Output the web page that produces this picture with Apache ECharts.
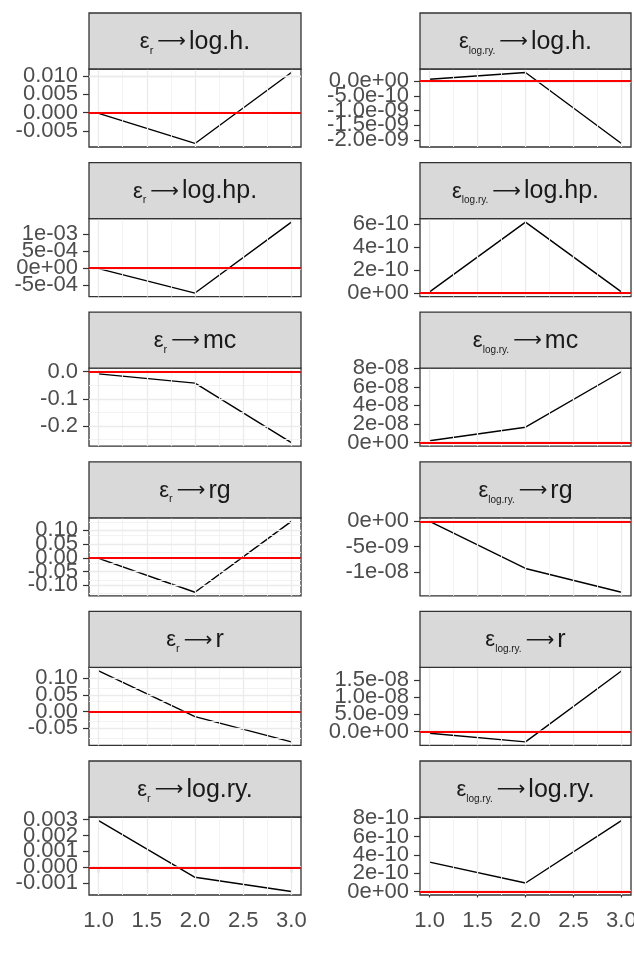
<!DOCTYPE html>
<html><head><meta charset="utf-8">
<script src="https://cdn.jsdelivr.net/npm/echarts@6/dist/echarts.min.js"></script>
<style>html,body{margin:0;padding:0;background:#fff}#c{width:634px;height:959px}</style>
</head><body><div id="c"></div>
<script>
// ---------- data ----------
const xValues = [1, 2, 3];
const xTicks = [1.0, 1.5, 2.0, 2.5, 3.0];
const xTickLabels = ['1.0', '1.5', '2.0', '2.5', '3.0'];

const responses = ['log.h.', 'log.hp.', 'mc', 'rg', 'r', 'log.ry.'];
const shocks = ['r', 'log.ry.'];

// shock ε_r
const r_logh   = [-0.0002, -0.0084, 0.0109];
const r_loghp  = [-0.00002, -0.00074, 0.00135];
const r_mc     = [-0.008, -0.042, -0.262];
const r_rg     = [-0.002, -0.125, 0.132];
const r_r      = [0.122, -0.015, -0.091];
const r_logry  = [0.00294, -0.00063, -0.00152];
// shock ε_log.ry.
const ry_logh  = [6e-11, 2.9e-10, -2.12e-9];
const ry_loghp = [1e-11, 6.15e-10, 1e-11];
const ry_mc    = [2e-9, 1.66e-8, 7.62e-8];
const ry_rg    = [0, -9.3e-9, -1.4e-8];
const ry_r     = [-5e-10, -3e-9, 1.76e-8];
const ry_logry = [3.2e-10, 9.2e-11, 7.75e-10];

// y tick values and labels
const t_r_logh = [-0.005, 0, 0.005, 0.010];        const l_r_logh = ['-0.005', '0.000', '0.005', '0.010'];
const t_r_loghp = [-5e-4, 0, 5e-4, 1e-3];          const l_r_loghp = ['-5e-04', '0e+00', '5e-04', '1e-03'];
const t_r_mc = [-0.2, -0.1, 0];                    const l_r_mc = ['-0.2', '-0.1', '0.0'];
const t_r_rg = [-0.10, -0.05, 0, 0.05, 0.10];      const l_r_rg = ['-0.10', '-0.05', '0.00', '0.05', '0.10'];
const t_r_r = [-0.05, 0, 0.05, 0.10];              const l_r_r = ['-0.05', '0.00', '0.05', '0.10'];
const t_r_logry = [-0.001, 0, 0.001, 0.002, 0.003]; const l_r_logry = ['-0.001', '0.000', '0.001', '0.002', '0.003'];
const t_ry_logh = [-2e-9, -1.5e-9, -1e-9, -5e-10, 0]; const l_ry_logh = ['-2.0e-09', '-1.5e-09', '-1.0e-09', '-5.0e-10', '0.0e+00'];
const t_ry_loghp = [0, 2e-10, 4e-10, 6e-10];       const l_ry_loghp = ['0e+00', '2e-10', '4e-10', '6e-10'];
const t_ry_mc = [0, 2e-8, 4e-8, 6e-8, 8e-8];       const l_ry_mc = ['0e+00', '2e-08', '4e-08', '6e-08', '8e-08'];
const t_ry_rg = [-1e-8, -5e-9, 0];                 const l_ry_rg = ['-1e-08', '-5e-09', '0e+00'];
const t_ry_r = [0, 5e-9, 1e-8, 1.5e-8];            const l_ry_r = ['0.0e+00', '5.0e-09', '1.0e-08', '1.5e-08'];
const t_ry_logry = [0, 2e-10, 4e-10, 6e-10, 8e-10]; const l_ry_logry = ['0e+00', '2e-10', '4e-10', '6e-10', '8e-10'];

const panelData = [
  [r_logh, r_loghp, r_mc, r_rg, r_r, r_logry],
  [ry_logh, ry_loghp, ry_mc, ry_rg, ry_r, ry_logry]
];
const panelTicks = [
  [t_r_logh, t_r_loghp, t_r_mc, t_r_rg, t_r_r, t_r_logry],
  [t_ry_logh, t_ry_loghp, t_ry_mc, t_ry_rg, t_ry_r, t_ry_logry]
];
const panelLabels = [
  [l_r_logh, l_r_loghp, l_r_mc, l_r_rg, l_r_r, l_r_logry],
  [l_ry_logh, l_ry_loghp, l_ry_mc, l_ry_rg, l_ry_r, l_ry_logry]
];

// ---------- layout ----------
const colLeft = [89, 420];
const colWidth = [212, 211];
const rowTop0 = 13, rowPitch = 149.6, stripH = 56, plotH = 78;
const FONT = '"Liberation Sans", Arial, sans-serif';
const NGROUP = 3; // labels split over overlaid axes so overlapping labels all stay visible

const grids = [], xAxes = [], yAxes = [], series = [], graphics = [];
let k = 0;
for (let r = 0; r < 6; r++) {
  for (let c = 0; c < 2; c++) {
    const data = panelData[c][r];
    const ticks = panelTicks[c][r];
    const labels = panelLabels[c][r];
    const lo = Math.min(0, ...data), hi = Math.max(0, ...data);
    const pad = 0.05 * (hi - lo);
    const ymin = lo - pad, ymax = hi + pad;
    const xmin = 0.9, xmax = 3.1;
    const stripTop = rowTop0 + rowPitch * r;
    const top = stripTop + stripH;
    grids.push({left: colLeft[c], top: top, width: colWidth[c], height: plotH,
      show: true, borderColor: '#333333', borderWidth: 1.3, backgroundColor: '#fff',
      containLabel: false, outerBoundsMode: 'none'});
    const bottomRow = r === 5;
    xAxes.push({type: 'value', gridIndex: k, min: xmin, max: xmax,
      axisLine: {show: false}, splitLine: {show: false},
      axisTick: {show: bottomRow, length: 6, lineStyle: {color: '#333333', width: 1.2}, customValues: xTicks},
      axisLabel: {show: bottomRow, customValues: xTicks, margin: 15, fontSize: 22, fontFamily: FONT, color: '#4D4D4D',
        showMinLabel: true, showMaxLabel: true, hideOverlap: false,
        formatter: (v) => { const i = xTicks.findIndex(t => Math.abs(t - v) < 1e-6); return i >= 0 ? xTickLabels[i] : ''; }}
    });
    const tol = (ymax - ymin) * 1e-6;
    const firstY = yAxes.length;
    for (let g = 0; g < NGROUP; g++) {
      const gTicks = ticks.filter((t, i) => i % NGROUP === g);
      const gLabels = labels.filter((t, i) => i % NGROUP === g);
      yAxes.push({type: 'value', gridIndex: k, min: ymin, max: ymax, position: 'left', offset: 0,
        show: gTicks.length > 0,
        axisLine: {show: false}, splitLine: {show: false},
        axisTick: {show: true, length: 6, lineStyle: {color: '#333333', width: 1.2}, customValues: gTicks},
        axisLabel: {customValues: gTicks, margin: 11, fontSize: 22, fontFamily: FONT, color: '#4D4D4D', hideOverlap: false,
          showMinLabel: true, showMaxLabel: true,
          formatter: (v) => { const i = gTicks.findIndex(t => Math.abs(t - v) < tol); return i >= 0 ? gLabels[i] : ''; }}
      });
    }
    // gridlines
    const step = ticks[1] - ticks[0];
    const yMinor = [];
    for (let i = -1; i < ticks.length; i++) {
      const m = ticks[0] + step * (i + 0.5);
      if (m > ymin && m < ymax) yMinor.push(m);
    }
    const xMinor = [1.25, 1.75, 2.25, 2.75];
    const gl = [];
    yMinor.forEach(v => gl.push({yAxis: v, lineStyle: {color: '#F2F2F2', width: 0.9, type: 'solid'}}));
    xMinor.forEach(v => gl.push({xAxis: v, lineStyle: {color: '#F2F2F2', width: 0.9, type: 'solid'}}));
    ticks.forEach(v => { if (v > ymin && v < ymax) gl.push({yAxis: v, lineStyle: {color: '#EBEBEB', width: 1.3, type: 'solid'}}); });
    xTicks.forEach(v => gl.push({xAxis: v, lineStyle: {color: '#EBEBEB', width: 1.3, type: 'solid'}}));
    series.push({type: 'line', xAxisIndex: k, yAxisIndex: firstY, z: 1, silent: true,
      data: xValues.map((x, i) => [x, data[i]]), symbol: 'none', lineStyle: {opacity: 0},
      markLine: {silent: true, symbol: ['none', 'none'], label: {show: false}, animation: false, data: gl}});
    series.push({type: 'line', xAxisIndex: k, yAxisIndex: firstY, z: 3,
      data: xValues.map((x, i) => [x, data[i]]), symbol: 'none',
      lineStyle: {color: '#000000', width: 1.4, type: 'solid'},
      markLine: {silent: true, symbol: ['none', 'none'], label: {show: false}, animation: false,
        data: [{yAxis: 0, lineStyle: {color: '#FF0000', width: 1.8, type: 'solid'}}]}});
    // strip
    graphics.push({type: 'rect', z: 50, shape: {x: colLeft[c], y: stripTop, width: colWidth[c], height: stripH},
      style: {fill: '#D9D9D9', stroke: '#333333', lineWidth: 1.3}});
    graphics.push({type: 'text', z: 51, x: colLeft[c] + colWidth[c] / 2, y: stripTop + stripH / 2 + 1,
      style: {text: '{e|ε}{s|' + shocks[c] + '}{a|⟶}{t|' + responses[r] + '}',
        align: 'center', verticalAlign: 'middle', textAlign: 'center', textVerticalAlign: 'middle',
        fill: '#1A1A1A',
        rich: {
          e: {fontSize: 22, fontFamily: FONT, fill: '#1A1A1A', color: '#1A1A1A', lineHeight: 28},
          s: {fontSize: c === 0 ? 11 : 10, fontFamily: FONT, fill: '#1A1A1A', color: '#1A1A1A', lineHeight: 14, verticalAlign: 'bottom', padding: [0, 3, 0, 0]},
          a: {fontSize: 20, fontFamily: '"DejaVu Sans", sans-serif', fill: '#1A1A1A', color: '#1A1A1A', lineHeight: 28, padding: [0, 3, 0, 1]},
          t: {fontSize: 25, fontFamily: FONT, fill: '#1A1A1A', color: '#1A1A1A', lineHeight: 28}
        }}});
    k++;
  }
}

const chart = echarts.init(document.getElementById('c'), null, {renderer: 'canvas'});
chart.setOption({
  animation: false,
  backgroundColor: '#ffffff',
  grid: grids, xAxis: xAxes, yAxis: yAxes, series: series, graphic: graphics
});
</script></body></html>
